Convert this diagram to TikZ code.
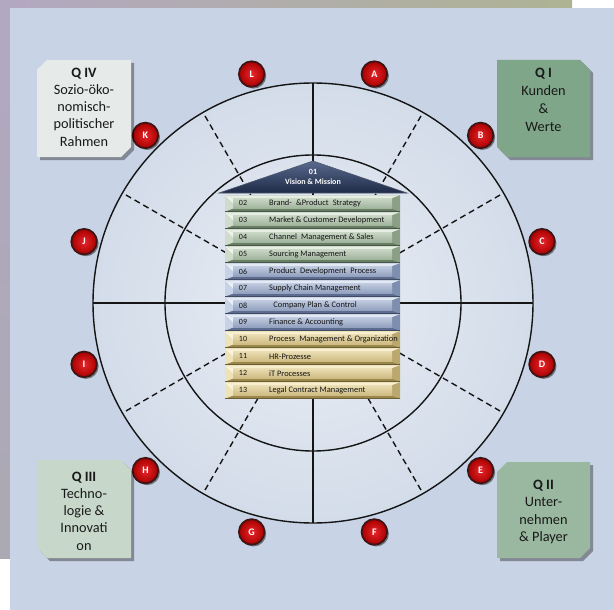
\documentclass[tikz,border=0pt]{standalone}
\usepackage{fontspec}
\setmainfont{Carlito}
\usetikzlibrary{shadows,calc}
\definecolor{panel}{HTML}{C8D3E5}
\definecolor{texA}{HTML}{B3A8C2}
\definecolor{texB}{HTML}{AEB393}
\definecolor{texC}{HTML}{ABA9B3}
\definecolor{diskIn}{HTML}{E9EEF5}
\definecolor{diskOut}{HTML}{D3DCE9}
\definecolor{ringline}{HTML}{151515}
\definecolor{lblIn}{HTML}{E8262B}
\definecolor{lblOut}{HTML}{A80000}
\definecolor{lblRim}{HTML}{3E1414}
\definecolor{roofT}{HTML}{5A6A8E}
\definecolor{roofB}{HTML}{1E2A46}
\definecolor{qiv}{HTML}{E6EBE9}
\definecolor{qi}{HTML}{80A68A}
\definecolor{qiii}{HTML}{C7D8CA}
\definecolor{qii}{HTML}{9AB7A0}
\definecolor{gBase}{HTML}{A9BCA5}\definecolor{gTop}{HTML}{E6EEE3}\definecolor{gBot}{HTML}{687E64}
\definecolor{gL}{HTML}{CFDBCB}\definecolor{gR}{HTML}{8A9F86}\definecolor{gFT}{HTML}{C9D6C5}\definecolor{gFB}{HTML}{9FB39B}
\definecolor{bBase}{HTML}{9DADCA}\definecolor{bTop}{HTML}{E3E9F4}\definecolor{bBot}{HTML}{5D6C8E}
\definecolor{bL}{HTML}{C8D2E6}\definecolor{bR}{HTML}{7E8EAE}\definecolor{bFT}{HTML}{C0CBE0}\definecolor{bFB}{HTML}{909FBD}
\definecolor{tBase}{HTML}{D9C78F}\definecolor{tTop}{HTML}{F7EFD0}\definecolor{tBot}{HTML}{9A874C}
\definecolor{tL}{HTML}{EEE2B9}\definecolor{tR}{HTML}{BBA86E}\definecolor{tFT}{HTML}{EADDB3}\definecolor{tFB}{HTML}{CDBA7F}
\definecolor{bartext}{HTML}{141414}
\tikzset{
  ringpath/.style={draw=ringline,line width=1.4pt},
  crossline/.style={draw=ringline,line width=1.4pt},
  dashline/.style={draw=ringline,line width=1.4pt,dash pattern=on 6pt off 4pt},
  lbl/.style={circle,minimum size=25.5pt,inner sep=0pt,inner color=lblIn,outer color=lblOut,
    draw=lblRim,line width=1.8pt,text=white,font=\bfseries\fontsize{10}{10}\selectfont,
    drop shadow={shadow xshift=1.8pt,shadow yshift=-1.8pt,opacity=0.45,fill=black}},
  qbox/.style={drop shadow={shadow xshift=3pt,shadow yshift=-3pt,opacity=0.35,fill=black}},
  qtext/.style={align=center,inner sep=0pt,text=black!90,font=\fontsize{14.3}{17.2}\selectfont},
  rooftxt/.style={inner sep=0pt,text=white,font=\bfseries\fontsize{8}{8}\selectfont},
  numtxt/.style={inner sep=0pt,text=bartext,font=\fontsize{8}{9}\selectfont},
  bartxt/.style={inner sep=0pt,anchor=west,text=bartext,font=\fontsize{8.4}{9}\selectfont},
}
\begin{document}
\begin{tikzpicture}[x=1pt,y=-1pt]
\useasboundingbox (0,0) rectangle (614,610);
% background
\fill[white] (0,0) rectangle (614,610);
\shade[left color=texA,right color=texB] (0,0) rectangle (572,9);
\shade[top color=texA,bottom color=texC] (0,0) rectangle (10,558);
\fill[panel] (10,8) rectangle (614,610);
% centre
\coordinate (c) at (313,303);
\shade[inner color=diskIn,outer color=diskOut] (c) circle[radius=220pt];
% radial dashed lines
\foreach \a in {30,60,120,150,210,240,300,330}{
  \coordinate (d\a) at ($(c)+({220*cos(\a)},{-220*sin(\a)})$);
  \draw[dashline] (c) -- (d\a);
}
% cross
\coordinate (top) at (313,83);
\coordinate (bot) at (313,523);
\coordinate (lft) at (93,303);
\coordinate (rgt) at (533,303);
\draw[crossline] (top) -- (bot);
\draw[crossline] (lft) -- (rgt);
% circles
\draw[ringpath] (c) circle[radius=220pt];
\draw[ringpath] (c) circle[radius=148pt];
% letter markers
\foreach \l/\a in {A/75,B/45,C/15,D/-15,E/-45,F/-75,G/-105,H/-135,I/-165,J/165,K/135,L/105}{
  \node[lbl] (m\l) at ($(c)+({237*cos(\a)},{-237*sin(\a)})$) {\l};
}
% corner boxes
\path[qbox,fill=qiv] (47,60) -- (131,60) -- (131,147) -- (121,157) -- (37,157) -- (37,70) -- cycle;
\node[qtext] (q4) at (84,107) {\textbf{Q IV}\\Sozio-öko-\\nomisch-\\politischer\\Rahmen};
\path[qbox,fill=qi] (497,60) -- (580,60) -- (590,70) -- (590,157) -- (507,157) -- (497,147) -- cycle;
\node[qtext,font=\fontsize{14.3}{18}\selectfont] (q1) at (543.5,100) {\textbf{Q I}\\Kunden\\\&\\Werte};
\path[qbox,fill=qiii] (37,460) -- (121,460) -- (131,470) -- (131,558) -- (47,558) -- (37,548) -- cycle;
\node[qtext] (q3) at (84,511) {\textbf{Q III}\\Techno-\\logie \&\\Innovati\\on};
\path[qbox,fill=qii] (507,462) -- (590,462) -- (590,548) -- (580,558) -- (497,558) -- (497,472) -- cycle;
\node[qtext] (q2) at (543.5,512) {\textbf{Q II}\\Unter-\\nehmen\\\& Player};
% roof
\shade[top color=roofT,bottom color=roofB,draw=roofB!80!white,line width=0.6pt]
  (219,193) -- (313,161) -- (407,193) -- cycle;
\node[rooftxt] (r01) at (313,171.5) {01};
\node[rooftxt] (rvm) at (313,182) {Vision \& Mission};
% bars
\foreach \n/\g/\t [count=\k from 0] in {
  02/g/{Brand-\enspace\&Product\enspace Strategy},
  03/g/{Market \& Customer Development},
  04/g/{Channel\enspace Management \& Sales},
  05/g/{Sourcing Management},
  06/b/{Product\enspace Development\enspace Process},
  07/b/{Supply Chain Management},
  08/b/{\enspace Company Plan \& Control},
  09/b/{Finance \& Accounting},
  10/t/{Process\enspace Management \& Organization},
  11/t/{HR-Prozesse},
  12/t/{iT Processes},
  13/t/{Legal Contract Management}}{
  \pgfmathsetmacro{\T}{195.3+17*\k}
  \pgfmathsetmacro{\B}{\T+16.2}
  \pgfmathsetmacro{\Y}{\T+8.1}
  \fill[\g Base] (225,\T) rectangle (400,\B);
  \fill[\g Top] (225,\T) -- (400,\T) -- (392,\T+3) -- (233,\T+3) -- cycle;
  \fill[\g Bot] (225,\B) -- (400,\B) -- (392,\B-3) -- (233,\B-3) -- cycle;
  \fill[\g L] (225,\T) -- (233,\T+3) -- (233,\B-3) -- (225,\B) -- cycle;
  \fill[\g R] (400,\T) -- (392,\T+3) -- (392,\B-3) -- (400,\B) -- cycle;
  \fill[\g Top!70!white] (225,\T) -- (233,\T+3) -- (233,\Y) -- cycle;
  \shade[top color=\g FT,bottom color=\g FB] (233,\T+3) rectangle (392,\B-3);
  \draw[\g Bot!70!black,line width=0.5pt] (225,\B) -- (400,\B);
  \node[numtxt] (n\n) at (243,\Y) {\n};
  \node[bartxt] (t\n) at (269,\Y) {\t};
}
\end{tikzpicture}
\end{document}
